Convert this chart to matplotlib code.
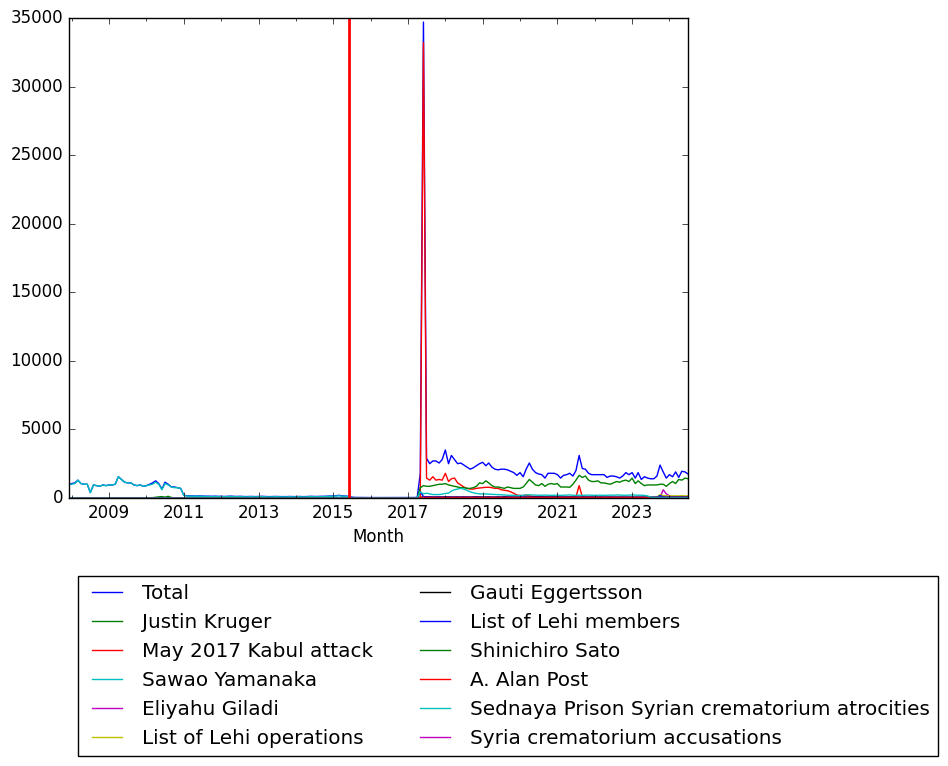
import matplotlib
matplotlib.use("Agg")
import matplotlib.pyplot as plt
import matplotlib.dates as mdates
import pandas as pd

plt.style.use('classic')

# monthly page views, Dec 2007 .. Jul 2024 (200 months)
months = pd.date_range('2007-12-01', periods=200, freq='MS')
api_switch = pd.Timestamp('2015-06-01')

total = ([950, 1050, 1100, 1300, 1050, 1000, 1000, 400, 950, 900, 850, 950,
          900, 950, 950, 1000, 1550, 1350, 1150, 1100, 1100, 950, 900, 950,
          850, 900, 1000, 1100, 1250, 1050, 650, 1150, 1000, 800, 800, 750, 700]
         + [200, 160, 150, 150, 140, 150, 140, 130, 130, 120,
            130, 120, 120, 110, 120, 130, 120, 110, 120, 110,
            100, 110, 110, 100, 110, 120, 110, 100, 100, 110,
            110, 100, 100, 100, 110, 100, 100, 110, 100, 100,
            110, 120, 110, 110, 120, 120, 130, 140, 150, 170,
            190, 150, 140, 120]
         + [60, 40, 40, 35, 35, 30, 30, 30, 30, 30, 25, 25, 25, 30, 30, 25,
            25, 25, 30, 30, 35, 40]
         + [1800, 34700,
            2900, 2500, 2700, 2700, 2550, 2800, 3500, 2500, 3100, 2800,
            2500, 2550, 2400, 2250, 2100, 2200, 2350, 2500, 2600, 2350,
            2550, 2250, 2100, 2050, 2100, 2100, 2050, 1950, 1850, 1650,
            1850, 1550, 2100, 2550, 2100, 1850, 1750, 1700, 1450, 1800,
            1800, 1800, 1700, 1450, 1650, 1700, 1800, 1600, 2000, 3100,
            2150, 2100, 1800, 1700, 1700, 1700, 1700, 1700, 1500, 1600,
            1600, 1550, 1450, 1600, 1850, 1700, 1850, 1450, 1850, 1350,
            1550, 1450, 1400, 1400, 1600, 2400, 1900, 1450, 1700, 1550,
            1900, 1500, 1950, 1900, 1750])

justin_kruger = ([0] * 27 + [20, 50, 80, 100, 60, 120, 40] + [0] * 79
                 + [30, 40, 30, 30, 30, 30, 30, 30, 30, 30, 30, 30,
                    30, 30, 30, 30, 30, 30, 30, 30, 30, 30, 30, 30,
                    30, 30, 30, 30, 30, 30, 30, 30, 30, 30, 30, 30,
                    30, 30, 30, 30, 30, 30, 30, 30, 30, 30, 30, 30,
                    30, 30, 30, 30, 30, 30, 30, 30, 30, 30, 30, 30,
                    30, 30, 30, 30, 30, 30, 30, 30, 30, 30, 30, 30,
                    30, 30, 30, 30, 30, 30, 30, 30, 30, 30, 30, 30,
                    30, 30, 30])

kabul_attack = ([0] * 113
                + [0, 33200, 1450, 1300, 1550, 1300, 1350, 1300, 1800, 1200,
                   1400, 1450, 1100, 950, 800, 700, 650, 650, 700, 730,
                   750, 780, 780, 750, 700, 700, 600, 560, 530, 450,
                   340, 220, 180, 170, 220, 150, 120, 100, 90, 80,
                   80, 70, 70, 60, 60, 60, 60, 60, 60, 60,
                   80, 900, 100, 60, 50, 50, 50, 40, 40, 40,
                   40, 40, 40, 40, 30, 30, 30, 30, 30, 30,
                   30, 30, 30, 30, 30, 30, 30, 40, 30, 30,
                   30, 30, 30, 30, 30, 30, 30])

sawao_yamanaka = ([950, 1000, 1050, 1300, 1050, 1000, 1000, 380, 950, 900, 850, 950,
                   900, 950, 950, 1000, 1550, 1350, 1150, 1100, 1100, 950, 900, 950,
                   850, 900, 950, 1000, 1150, 1000, 600, 1050, 950, 800, 750, 750, 700]
                  + [180, 140, 130, 130, 120, 130, 120, 110, 110, 100,
                     110, 100, 100, 90, 100, 110, 100, 90, 100, 90,
                     80, 90, 90, 80, 90, 100, 90, 80, 80, 90,
                     90, 80, 80, 80, 90, 80, 80, 90, 80, 80,
                     90, 100, 90, 90, 100, 100, 110, 120, 130, 150,
                     160, 130, 120, 100]
                  + [30, 20, 20, 20, 20, 20, 20, 20, 20, 20, 15, 15, 15, 20, 20, 15,
                     15, 15, 20, 20, 20, 25]
                  + [20, 20, 20, 20, 20, 20, 20, 20, 20, 20, 20, 20,
                     20, 20, 20, 20, 20, 20, 20, 20, 20, 20, 20, 20,
                     20, 20, 20, 20, 20, 20, 20, 20, 20, 20, 20, 20,
                     20, 20, 20, 20, 20, 20, 20, 20, 20, 20, 20, 20,
                     20, 20, 20, 20, 20, 20, 20, 20, 20, 20, 20, 20,
                     20, 20, 20, 20, 20, 20, 20, 20, 20, 20, 20, 20,
                     20, 20, 20, 20, 20, 20, 20, 20, 20, 20, 20, 20,
                     20, 20, 20])

eliyahu_giladi = ([0] * 113
                  + [20, 20, 20, 20, 20, 20, 20, 20, 20, 20, 20, 20,
                     20, 20, 20, 20, 20, 20, 20, 20, 20, 20, 20, 20,
                     20, 20, 20, 20, 20, 20, 20, 20, 20, 20, 20, 20,
                     20, 20, 20, 20, 20, 20, 20, 20, 20, 20, 20, 20,
                     20, 20, 20, 20, 20, 20, 20, 20, 20, 20, 20, 20,
                     20, 20, 20, 20, 20, 20, 20, 20, 20, 20, 20, 20,
                     20, 20, 20, 20, 30, 40, 600, 300, 150, 100, 90, 80,
                     80, 70, 70])

lehi_operations = ([0] * 113
                   + [30, 30, 30, 30, 30, 30, 30, 30, 30, 30, 30, 30,
                      30, 30, 30, 30, 30, 30, 30, 30, 30, 30, 30, 30,
                      30, 30, 30, 30, 30, 30, 30, 30, 30, 30, 30, 30,
                      30, 30, 30, 30, 30, 30, 30, 30, 30, 30, 30, 30,
                      30, 30, 30, 30, 30, 30, 30, 30, 30, 30, 30, 30,
                      30, 30, 30, 30, 30, 30, 30, 30, 30, 30, 30, 30,
                      40, 40, 50, 60, 80, 250, 180, 160, 150, 150, 160, 150,
                      170, 150, 160])

gauti_eggertsson = ([0] * 113
                    + [40, 60, 80, 70, 60, 60, 70, 60, 80, 70,
                       60, 60, 70, 60, 70, 60, 60, 70, 80, 70,
                       60, 60, 70, 60, 60, 70, 60, 90, 70, 60,
                       60, 70, 60, 60, 70, 60, 60, 70, 60, 80,
                       60, 60, 60, 70, 60, 60, 50, 60, 60, 60,
                       50, 60, 60, 50, 60, 60, 50, 50, 60, 50,
                       50, 60, 50, 50, 50, 60, 50, 50, 50, 50,
                       50, 50, 50, 50, 50, 50, 50, 60, 50, 50,
                       50, 50, 50, 50, 50, 50, 50])

lehi_members = ([0] * 113
                + [450, 100, 80, 70, 60, 60, 70, 60, 60, 70,
                   60, 60, 60, 50, 60, 60, 50, 60, 60, 60,
                   50, 60, 60, 50, 50, 60, 50, 50, 50, 60,
                   50, 50, 50, 60, 60, 50, 50, 50, 50, 50,
                   50, 50, 50, 50, 50, 50, 50, 50, 50, 50,
                   50, 50, 50, 50, 50, 50, 50, 50, 50, 50,
                   50, 50, 50, 50, 50, 50, 50, 50, 50, 50,
                   50, 50, 50, 50, 50, 50, 50, 170, 90, 60,
                   60, 60, 60, 60, 60, 60, 60])

shinichiro_sato = ([0] * 113
                   + [750, 900, 850, 850, 900, 950, 1000, 1000, 1050, 950,
                      900, 850, 800, 750, 750, 700, 700, 750, 850, 1100,
                      1050, 1250, 1100, 900, 800, 800, 750, 700, 800, 750,
                      700, 700, 700, 800, 1050, 1350, 1150, 950, 900, 1050,
                      850, 1000, 1050, 1000, 1050, 800, 800, 800, 780, 1000,
                      1300, 1650, 1500, 1600, 1300, 1200, 1200, 1250, 1100, 1100,
                      1050, 1000, 1100, 1200, 1150, 1250, 1300, 1200, 1450, 1050,
                      1250, 1050, 900, 950, 950, 950, 950, 1000, 1000, 850,
                      1050, 1200, 1050, 1350, 1300, 1450, 1400])

alan_post = ([0] * 113
             + [40, 40, 40, 40, 40, 40, 40, 40, 40, 40, 40, 40,
                40, 40, 40, 40, 40, 40, 40, 40, 40, 40, 40, 40,
                40, 40, 40, 40, 40, 40, 40, 40, 40, 40, 40, 40,
                40, 40, 40, 40, 40, 40, 40, 40, 40, 40, 40, 40,
                40, 40, 40, 40, 40, 40, 40, 40, 40, 40, 40, 40,
                40, 40, 40, 40, 40, 40, 40, 40, 40, 40, 40, 40,
                40, 40, 40, 40, 40, 40, 40, 40, 40, 40, 40, 40,
                40, 40, 40])

sednaya = ([0] * 113
           + [450, 300, 350, 300, 250, 250, 250, 280, 330, 350,
              500, 600, 650, 700, 650, 550, 450, 380, 330, 300,
              290, 290, 280, 270, 260, 250, 230, 220, 200, 200,
              190, 180, 180, 200, 220, 230, 220, 210, 200, 200,
              210, 200, 190, 200, 200, 190, 200, 210, 220, 200,
              190, 200, 190, 200, 210, 200, 190, 200, 200, 190,
              200, 210, 200, 220, 210, 200, 200, 210, 220, 210,
              200, 200, 190, 150, 60, 40, 40, 40, 30, 30,
              30, 30, 30, 30, 30, 30, 30])

syria_crematorium = [0] * 200

labels = ['Total', 'Justin Kruger', 'May 2017 Kabul attack', 'Sawao Yamanaka',
          'Eliyahu Giladi', 'List of Lehi operations', 'Gauti Eggertsson',
          'List of Lehi members', 'Shinichiro Sato', 'A. Alan Post',
          'Sednaya Prison Syrian crematorium atrocities', 'Syria crematorium accusations']
series = [total, justin_kruger, kabul_attack, sawao_yamanaka, eliyahu_giladi,
          lehi_operations, gauti_eggertsson, lehi_members, shinichiro_sato,
          alan_post, sednaya, syria_crematorium]

fig = plt.figure(figsize=(9.48, 7.66), dpi=100)
fig.set_facecolor('white')
ax = fig.add_axes([0.0723, 0.3499, 0.6535, 0.6266])

lines = []
for name, vals in zip(labels, series):
    ln, = ax.plot(months, vals, label=name)
    lines.append(ln)

ax.axvline(api_switch, color='r', linewidth=2)

ax.set_xlim(months[0], months[-1])
ax.set_ylim(0, 35000)
ax.xaxis.set_major_locator(plt.FixedLocator(
    mdates.date2num(pd.to_datetime([f'{y}-01-01' for y in range(2009, 2024, 2)]))))
ax.xaxis.set_minor_locator(mdates.YearLocator(1))
ax.xaxis.set_major_formatter(mdates.DateFormatter('%Y'))
ax.set_xlabel('Month')

fig.legend(lines, labels, loc='upper left', bbox_to_anchor=(78 / 948, 1 - 576 / 766),
           ncol=2, fontsize=14.4, borderaxespad=0, handlelength=2.1,
           handletextpad=0.7, labelspacing=0.5, columnspacing=2.05)

fig.savefig('out.png', dpi=100, facecolor='white')
